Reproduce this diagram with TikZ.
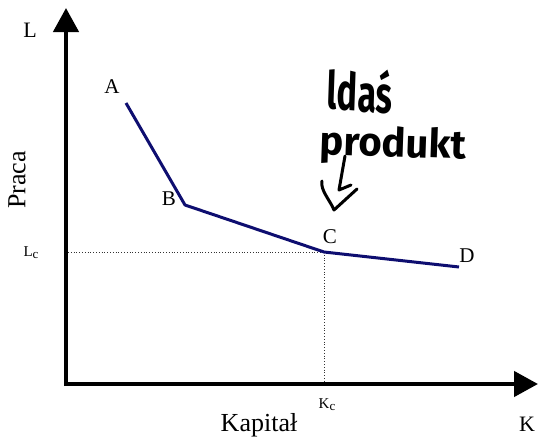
\documentclass[tikz,border=0pt]{standalone}
\usepackage{fontspec}
\setmainfont{Liberation Serif}
\newfontfamily\handfont{Fira Sans}
\usetikzlibrary{arrows.meta}
\tikzset{
  axis/.style={line width=4.5pt,-{Triangle[width=25pt,length=24pt]}},
  curve/.style={line width=3pt,color=curvecol,line join=round},
  guide/.style={dotted,line width=0.8pt,color=black!80},
  ptlabel/.style={font=\fontsize{21}{21}\selectfont,inner sep=0pt},
  axlabel/.style={font=\fontsize{22}{22}\selectfont,inner sep=0pt},
  titlelabel/.style={font=\fontsize{26}{26}\selectfont,inner sep=0pt},
  small/.style={font=\fontsize{15}{15}\selectfont,inner sep=0pt},
  hand/.style={line width=3pt,line cap=round,line join=round},
  handtext/.style={font=\handfont\bfseries\fontsize{40}{40}\selectfont,inner sep=0pt},
}
\definecolor{curvecol}{RGB}{14,14,112}
\begin{document}
\begin{tikzpicture}[x=1pt,y=-1pt]
\useasboundingbox (0,0) rectangle (539,439);
% axes
\coordinate (O) at (66,384);
\coordinate (Ytop) at (66,8);
\coordinate (Xend) at (538,384);
\draw[axis] (66,386) -- (Ytop);
\draw[axis] (64,384) -- (Xend);
% points
\coordinate (A) at (126,103);
\coordinate (B) at (185,205);
\coordinate (C) at (324,252);
\coordinate (D) at (459,267);
\coordinate (Lc) at (68,252);
\coordinate (Kc) at (324,382);
% guides
\draw[guide] (Lc) -- (C);
\draw[guide] (C) -- (Kc);
% curve
\draw[curve] (A) -- (B) -- (C) -- (D);
% labels
\node[axlabel] (Llab) at (30,30) {L};
\node[axlabel] (Klab) at (527,424) {K};
\node[titlelabel] (kap) at (259,425) {Kapitał};
\node[titlelabel,rotate=90] (praca) at (17,180) {Praca};
\node[ptlabel] (Alab) at (112,87) {A};
\node[ptlabel] (Blab) at (169,199) {B};
\node[ptlabel] (Clab) at (330,237) {C};
\node[ptlabel] (Dlab) at (467,256) {D};
\node[small] (Lclab) at (31,253) {L\raisebox{-2pt}{\fontsize{13}{13}\selectfont c}};
\node[small] (Kclab) at (327,405) {K\raisebox{-2pt}{\fontsize{13}{13}\selectfont c}};
% handwritten note
\node[handtext,xscale=0.85,yscale=1.3,rotate=-3] (note1) at (360,90) {ldaś};
\node[handtext,xscale=1.0,yscale=1.0,rotate=-2] (note2) at (393,146) {produkt};
\coordinate (s1) at (345,156);
\coordinate (s2) at (339,190);
\coordinate (s3) at (351,185);
\coordinate (v1) at (322,181);
\coordinate (v2) at (334,210);
\coordinate (v3) at (357,189);
\draw[hand] (s1) -- (s2) -- (s3);
\draw[hand] (v1) .. controls (320,190) and (330,200) .. (v2) -- (v3);
\end{tikzpicture}
\end{document}
